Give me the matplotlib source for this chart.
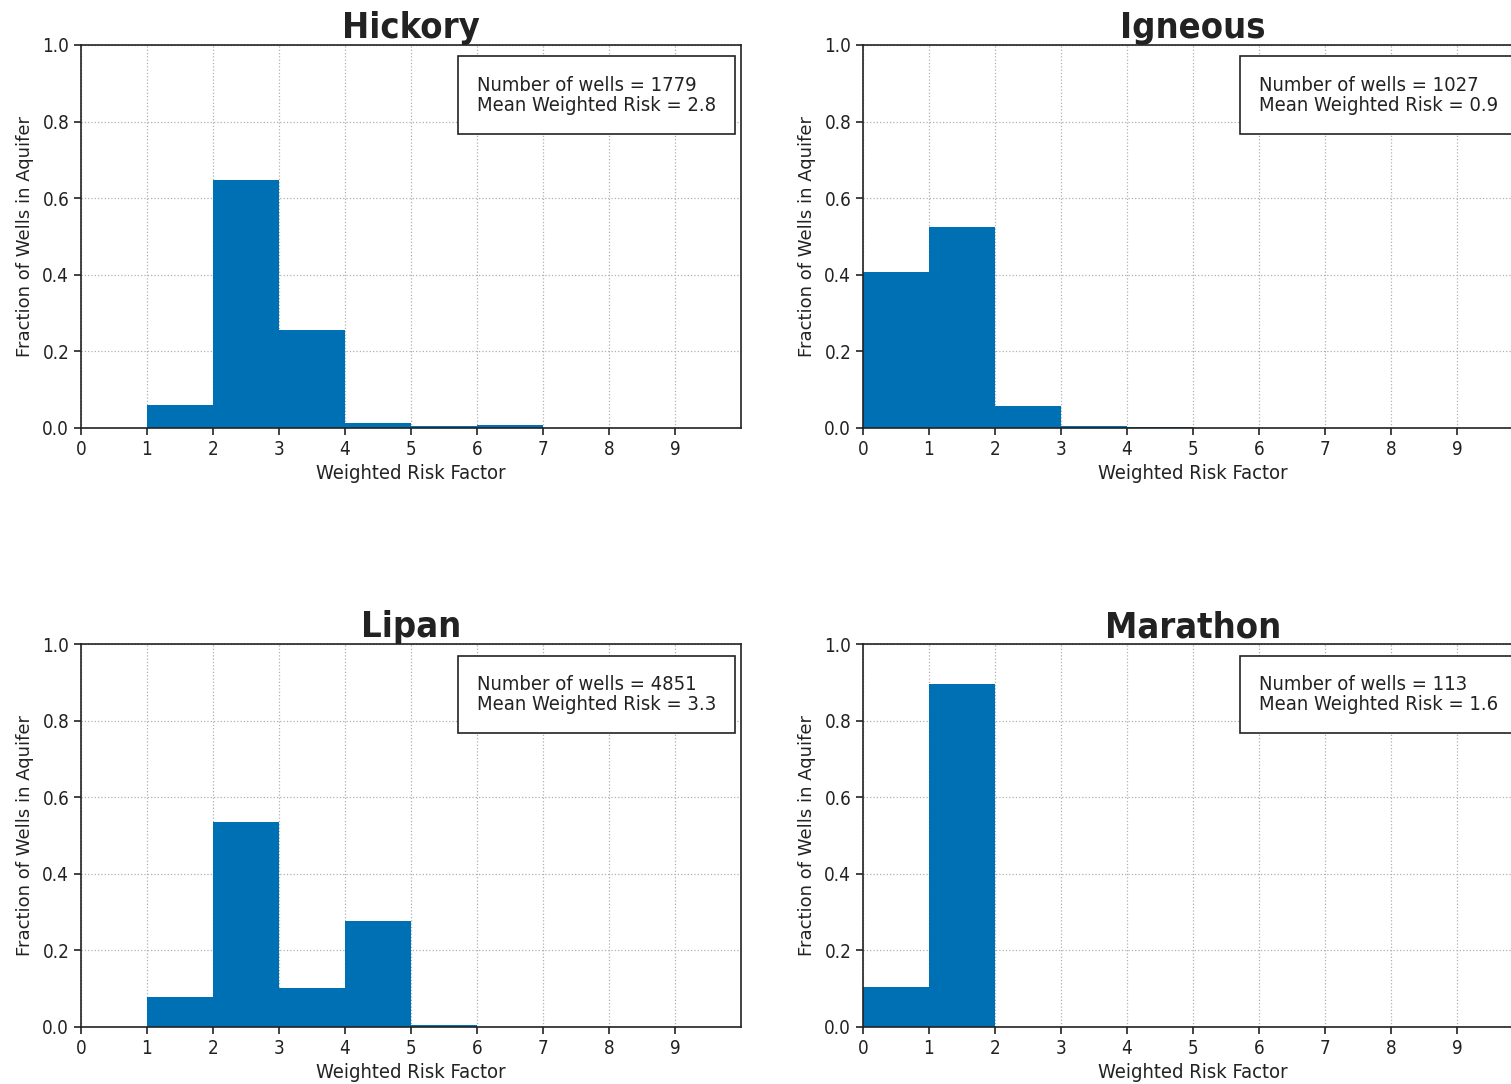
import numpy as np
import matplotlib
matplotlib.use('Agg')
import matplotlib.pyplot as plt

# fraction of wells per weighted-risk bin (bins 0-1, 1-2, ... 9-10)
bin_edges = np.arange(0, 11)
names = ["Hickory", "Igneous", "Lipan", "Marathon"]
hickory = [0.0, 0.060, 0.648, 0.256, 0.012, 0.004, 0.009, 0.0, 0.0, 0.0]
igneous = [0.407, 0.525, 0.058, 0.004, 0.002, 0.0, 0.0, 0.0, 0.0, 0.0]
lipan = [0.0, 0.078, 0.535, 0.102, 0.277, 0.005, 0.0, 0.0, 0.0, 0.0]
marathon = [0.104, 0.896, 0.0, 0.0, 0.0, 0.0, 0.0, 0.0, 0.0, 0.0]
n_wells = [1779, 1027, 4851, 113]
mean_risk = [2.8, 0.9, 3.3, 1.6]

fracs = [hickory, igneous, lipan, marathon]
color = '#0070b4'

fig = plt.figure(figsize=(15.11, 10.84), dpi=100)
lefts = [0.0536, 0.5711]
bottoms = [0.6052, 0.0526]
w, h = 0.4368, 0.3533

cond = dict(fontstretch='condensed')

for i in range(4):
    r, c = divmod(i, 2)
    ax = fig.add_axes([lefts[c], bottoms[r], w, h])
    ax.bar(bin_edges[:-1], fracs[i], width=1, align='edge', color=color, lw=0)
    ax.set_xlim(0, 10)
    ax.set_ylim(0, 1)
    ax.set_xticks(range(10))
    ax.set_yticks(np.arange(0, 1.01, 0.2))
    ax.set_axisbelow(True)
    ax.grid(True, ls=':', color='#b0b0b0', lw=0.9)
    for s in ax.spines.values():
        s.set_color('#222222')
        s.set_linewidth(1.2)
    ax.tick_params(direction='out', length=5, width=1.2, labelsize=13.5, colors='#222222')
    for lab in ax.get_xticklabels() + ax.get_yticklabels():
        lab.set_fontstretch('condensed')
    ax.set_title(names[i], fontsize=26, fontweight='bold', color='#222222', pad=4, **cond)
    ax.set_xlabel("Weighted Risk Factor", fontsize=14.5, color='#222222', **cond)
    ax.set_ylabel("Fraction of Wells in Aquifer", fontsize=13, color='#222222', labelpad=6)
    ax.text(0.60, 0.92, f"Number of wells = {n_wells[i]}\nMean Weighted Risk = {mean_risk[i]}",
            transform=ax.transAxes, ha='left', va='top', fontsize=14.5, color='#222222',
            linespacing=1.1,
            bbox=dict(boxstyle='square,pad=0.95', fc='white', ec='#222222', lw=1.2), **cond)

fig.savefig("out.png", dpi=100)
